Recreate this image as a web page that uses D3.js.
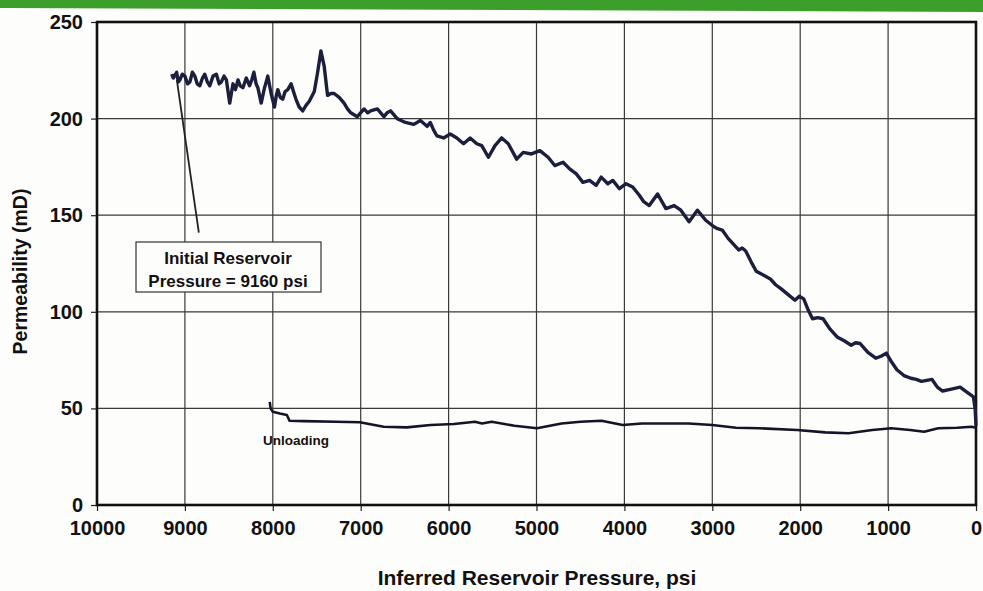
<!DOCTYPE html>
<html>
<head>
<meta charset="utf-8">
<script src="https://cdn.jsdelivr.net/npm/d3@7/dist/d3.min.js"></script>
<style>
  html, body { margin: 0; padding: 0; background: #fdfdfb; }
  svg { display: block; }
  text { font-family: "Liberation Sans", Arial, Helvetica, sans-serif; font-weight: bold; fill: #111; }
</style>
</head>
<body>
<svg id="chart" width="983" height="591"></svg>
<script>
// ---- data ----
const xTicks = [10000, 9000, 8000, 7000, 6000, 5000, 4000, 3000, 2000, 1000, 0];
const yTicks = [0, 50, 100, 150, 200, 250];

// loading curve: inferred reservoir pressure (psi) vs permeability (mD)
const loadP = [9150, 9132, 9094, 9075, 9057, 9030, 9000, 8970, 8943, 8915, 8887, 8860, 8830, 8800, 8774, 8745,
  8717, 8680, 8642, 8610, 8585, 8555, 8528, 8490, 8453, 8425, 8396, 8370, 8340, 8302, 8264, 8240, 8215, 8190,
  8170, 8132, 8094, 8075, 8057, 8019, 7981, 7960, 7943, 7915, 7887, 7860, 7830, 7792, 7765, 7736, 7700, 7660,
  7620, 7585, 7528, 7490, 7453, 7415, 7377, 7340, 7302, 7245, 7189, 7150, 7113, 7038, 6962, 6920, 6887, 6811,
  6736, 6700, 6660, 6585, 6540, 6491, 6396, 6321, 6245, 6208, 6170, 6132, 6057, 5981, 5906, 5830, 5755, 5679,
  5623, 5547, 5472, 5396, 5321, 5226, 5151, 5057, 4962, 4868, 4792, 4698, 4623, 4547, 4472, 4396, 4321, 4264,
  4189, 4132, 4057, 3981, 3906, 3830, 3780, 3717, 3623, 3528, 3434, 3358, 3264, 3170, 3075, 2981, 2940, 2887,
  2820, 2760, 2700, 2660, 2620, 2560, 2500, 2420, 2340, 2280, 2220, 2140, 2060, 2010, 1960, 1910, 1860, 1800,
  1740, 1660, 1580, 1500, 1420, 1370, 1320, 1230, 1140, 1080, 1020, 960, 900, 820, 740, 680, 620, 560, 500,
  440, 380, 280, 180, 120, 60, 30, 10, 0];
const loadK = [223, 221, 224, 219, 220, 223, 222, 218, 219, 224, 222, 218, 217, 221, 223, 219,
  217, 222, 223, 218, 219, 222, 220, 208, 218, 215, 220, 217, 216, 221, 217, 220, 224, 218,
  216, 208, 216, 219, 222, 213, 206, 212, 215, 211, 210, 214, 215, 218, 214, 210, 206, 204,
  207, 209, 214, 224, 235, 227, 212, 213, 213, 211, 208, 205, 203, 201, 205, 203, 204, 205,
  201, 203, 204, 200, 199, 198, 197, 199, 196, 198, 194, 191, 190, 192, 190, 187, 190, 187,
  186, 180, 186, 190, 187, 179, 182.5, 181.7, 183.4, 180, 175.7, 177.4, 174, 171.4, 167, 168, 165.4, 169.7,
  166.3, 168, 163.7, 166.3, 164.6, 160.3, 157, 155, 161, 153.4, 155, 152.6, 146.6, 152.6, 147.4, 144, 143, 142.3,
  138, 135, 132, 133, 131.5, 126, 121, 119, 117, 114, 112, 109, 106, 108, 106.7, 101, 96.4, 97,
  96.4, 91, 87, 85, 82.7, 84, 83.6, 79, 76, 77, 78.6, 74, 70, 67, 65.6, 65, 64, 64.5, 65,
  61, 59, 60, 61, 59, 57, 56, 50, 41];

// unloading curve
const unloadP = [0, 50, 215, 430, 590, 750, 965, 1180, 1450, 1715, 2035, 2465, 2730, 3000, 3270, 3800, 4020,
  4260, 4500, 4715, 4995, 5250, 5510, 5620, 5700, 5940, 6205, 6475, 6740, 7010, 7280, 7650, 7810, 7840, 7920,
  8000, 8025, 8035];
const unloadK = [40, 40.5, 40, 39.7, 37.9, 38.8, 39.7, 38.8, 37.1, 37.6, 38.8, 39.7, 40, 41.4, 42.2, 42.2, 41.4,
  43.6, 43.1, 42.2, 39.7, 41, 43.1, 42.2, 43.1, 41.9, 41.4, 40.2, 40.5, 42.8, 43.1, 43.4, 43.6, 46.6, 47.4,
  48.3, 50, 53.4];

const annotationLines = ["Initial Reservoir", "Pressure = 9160 psi"];
const initialPressure = 9160;
const xTitle = "Inferred Reservoir Pressure, psi";
const yTitle = "Permeability (mD)";
const unloadLabel = "Unloading";

// ---- layout ----
const svg = d3.select("#chart");
const L = 97, R = 976, T = 22, B = 505;

// green banner at the top
svg.append("path")
  .attr("d", "M0,0 L983,0 L983,12 L0,8 Z")
  .attr("fill", "#3d9f2b");

const x = d3.scaleLinear().domain([10000, 0]).range([L, R]);
const y = d3.scaleLinear().domain([0, 250]).range([B, T]);

// grid
const g = svg.append("g");
g.selectAll(".vgrid").data(xTicks.filter(d => d !== 10000 && d !== 0)).enter()
  .append("line")
  .attr("x1", d => x(d)).attr("x2", d => x(d))
  .attr("y1", T).attr("y2", B)
  .attr("stroke", "#3a3a3a").attr("stroke-width", 1.2);
g.selectAll(".hgrid").data(yTicks.filter(d => d !== 0 && d !== 250)).enter()
  .append("line")
  .attr("x1", L).attr("x2", R)
  .attr("y1", d => y(d)).attr("y2", d => y(d))
  .attr("stroke", "#3a3a3a").attr("stroke-width", 1.2);

// axes
const xAxis = d3.axisBottom(x).tickValues(xTicks).tickSize(6).tickPadding(10).tickFormat(d3.format("d"));
const yAxis = d3.axisLeft(y).tickValues(yTicks).tickSize(6).tickPadding(8).tickFormat(d3.format("d"));
const gx = svg.append("g").attr("transform", `translate(0,${B})`).call(xAxis);
const gy = svg.append("g").attr("transform", `translate(${L},0)`).call(yAxis);
[gx, gy].forEach(a => {
  a.select(".domain").remove();
  a.selectAll(".tick line").attr("stroke", "#222").attr("stroke-width", 1.2);
  a.selectAll("text").style("font-size", "20px").style("font-family", "'Liberation Sans', Arial, sans-serif")
    .style("font-weight", "bold").attr("fill", "#111");
});

// plot border
svg.append("rect")
  .attr("x", L).attr("y", T).attr("width", R - L).attr("height", B - T)
  .attr("fill", "none").attr("stroke", "#111").attr("stroke-width", 2.6);

// lines
const line = d3.line().x(d => x(d[0])).y(d => y(d[1]));
const loadData = loadP.map((p, i) => [p, loadK[i]]);
const unloadData = unloadP.map((p, i) => [p, unloadK[i]]);

svg.append("path").datum(unloadData)
  .attr("d", line).attr("fill", "none")
  .attr("stroke", "#141428").attr("stroke-width", 2.6).attr("stroke-linejoin", "round");
svg.append("path").datum(loadData)
  .attr("d", line).attr("fill", "none")
  .attr("stroke", "#1b1e3d").attr("stroke-width", 3.4).attr("stroke-linejoin", "round");

// annotation leader + box
svg.append("line")
  .attr("x1", x(initialPressure) + 6).attr("y1", y(220))
  .attr("x2", x(initialPressure) + 28).attr("y2", y(141))
  .attr("stroke", "#222").attr("stroke-width", 1.8);
svg.append("rect")
  .attr("x", 136).attr("y", 242).attr("width", 185).attr("height", 50)
  .attr("fill", "#fdfdfb").attr("stroke", "#333").attr("stroke-width", 1.2);
svg.append("text").attr("x", 228).attr("y", 264).attr("text-anchor", "middle")
  .style("font-size", "17px").text(annotationLines[0]);
svg.append("text").attr("x", 228).attr("y", 287).attr("text-anchor", "middle")
  .style("font-size", "17px").text(annotationLines[1]);

// unloading label
svg.append("text").attr("x", 263).attr("y", 445)
  .style("font-size", "13.5px").text(unloadLabel);

// axis titles
svg.append("text").attr("x", 537).attr("y", 585).attr("text-anchor", "middle")
  .style("font-size", "21px").text(xTitle);
svg.append("text").attr("transform", `translate(27,${(T + B) / 2 + 8}) rotate(-90)`)
  .attr("text-anchor", "middle").style("font-size", "19.5px").text(yTitle);
</script>
</body>
</html>
